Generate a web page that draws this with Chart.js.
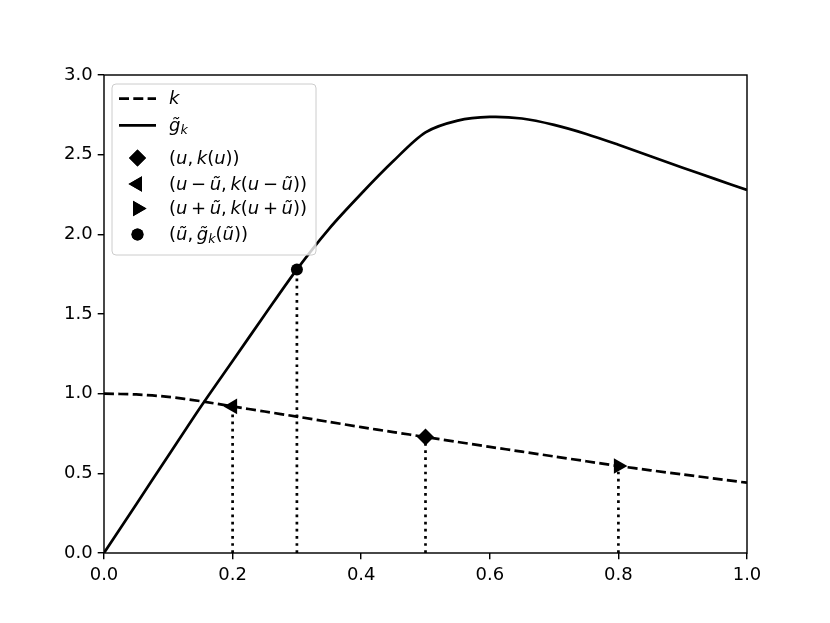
<!DOCTYPE html>
<html>
<head>
<meta charset="utf-8">
<script src="https://cdn.jsdelivr.net/npm/chart.js@4.4.0/dist/chart.umd.min.js"></script>
<style>
  html, body { margin: 0; padding: 0; background: #fff; }
  #wrap { width: 830px; height: 623px; }
</style>
</head>
<body>
<div id="wrap"><canvas id="c" width="830" height="623"></canvas></div>
<script>
/* ---------- data ---------- */
const uGrid = [0, 0.05, 0.1, 0.15, 0.2, 0.25, 0.3, 0.35, 0.4, 0.45, 0.5,
               0.55, 0.6, 0.65, 0.7, 0.75, 0.8, 0.85, 0.9, 0.95, 1.0];
const kVals = [1.0, 0.995, 0.98, 0.953, 0.92, 0.888, 0.856, 0.823, 0.79, 0.759, 0.728,
               0.697, 0.666, 0.636, 0.606, 0.576, 0.546, 0.519, 0.493, 0.467, 0.441];
const gVals = [0, 0.305, 0.61, 0.915, 1.205, 1.495, 1.78, 2.035, 2.255, 2.46, 2.64,
               2.714, 2.737, 2.727, 2.687, 2.63, 2.562, 2.49, 2.418, 2.348, 2.278];

const ptCenter = { x: 0.5, y: 0.728 };   // (u, k(u))
const ptMinus  = { x: 0.2, y: 0.92 };    // (u - ũ, k(u - ũ))
const ptPlus   = { x: 0.8, y: 0.546 };   // (u + ũ, k(u + ũ))
const ptTilde  = { x: 0.3, y: 1.78 };    // (ũ, g̃k(ũ))

const xTicks = [0, 0.2, 0.4, 0.6, 0.8, 1.0];
const yTicks = [0, 0.5, 1.0, 1.5, 2.0, 2.5, 3.0];

const TS = "\u2009";   // thin space
const legendLabels = [
  "k",
  "g\u0303_k",
  `(u,${TS}k(u))`,
  `(u${TS}\u2212${TS}u\u0303,${TS}k(u${TS}\u2212${TS}u\u0303))`,
  `(u${TS}+${TS}u\u0303,${TS}k(u${TS}+${TS}u\u0303))`,
  `(u\u0303,${TS}g\u0303_k(u\u0303))`
];

/* ---------- helpers ---------- */
const FONT = '"DejaVu Sans", sans-serif';
const LW   = 2.7;
const DASH = [10, 4.3];
const DOT  = [2.7, 4.45];

const toXY  = (xs, ys) => xs.map((x, i) => ({ x, y: ys[i] }));
const vline = p => [{ x: p.x, y: 0 }, { x: p.x, y: p.y }];

const marker = (p, style, r, rot) => ({
  data: [p], showLine: false, pointStyle: style, pointRadius: r,
  pointRotation: rot || 0, pointBackgroundColor: "#000", pointBorderColor: "#000",
  pointBorderWidth: 0, pointHoverRadius: r
});
const dotted = p => ({
  data: vline(p), showLine: true, borderColor: "#000", borderWidth: LW, borderDash: DOT,
  pointRadius: 0, fill: false
});

/* small math-text drawer: letters italic, "_" = subscript */
function drawMath (ctx, str, x, y, size) {
  let cx = x;
  for (let i = 0; i < str.length; i++) {
    let ch = str[i], sub = false;
    if (ch === "_") { sub = true; ch = str[++i]; }
    while (str[i + 1] === "\u0303") ch += str[++i];
    const ital = /[a-z]/i.test(ch[0]);
    const fs = sub ? size * 0.7 : size;
    ctx.font = `${ital ? "italic " : ""}${fs}px ${FONT}`;
    ctx.fillText(ch, cx, y + (sub ? size * 0.22 : 0));
    cx += ctx.measureText(ch).width;
  }
}

/* frame + legend drawn on top */
const framePlugin = {
  id: "frameLegend",
  afterDraw (chart) {
    const { ctx, chartArea: a } = chart;
    ctx.save();
    ctx.strokeStyle = "#000"; ctx.lineWidth = 1.44; ctx.setLineDash([]);
    ctx.strokeRect(a.left, a.top, a.right - a.left, a.bottom - a.top);

    // legend box
    const bx = 112, by = 84, bw = 204, bh = 171;
    ctx.beginPath();
    ctx.roundRect(bx, by, bw, bh, 4);
    ctx.fillStyle = "rgba(255,255,255,0.8)"; ctx.fill();
    ctx.strokeStyle = "#cccccc"; ctx.lineWidth = 1; ctx.stroke();

    const rows = [98.7, 125.3, 158, 184, 208.5, 234.5];
    const hx0 = 119, hx1 = 156, hc = (hx0 + hx1) / 2, tx = 169;
    ctx.fillStyle = "#000"; ctx.strokeStyle = "#000";

    // handles
    ctx.lineWidth = LW;
    ctx.setLineDash(DASH);
    ctx.beginPath(); ctx.moveTo(hx0, rows[0]); ctx.lineTo(hx1, rows[0]); ctx.stroke();
    ctx.setLineDash([]);
    ctx.beginPath(); ctx.moveTo(hx0, rows[1]); ctx.lineTo(hx1, rows[1]); ctx.stroke();
    const pts = chart.data.datasets;
    [[pts[0], rows[2]], [pts[1], rows[3]], [pts[2], rows[4]], [pts[3], rows[5]]]
      .forEach(([ds, y]) => {
        Chart.helpers.drawPoint(ctx, {
          pointStyle: ds.pointStyle, radius: ds.pointRadius,
          rotation: ds.pointRotation, borderWidth: 0
        }, hc, y);
        ctx.fill();
      });

    // texts
    ctx.textBaseline = "middle"; ctx.textAlign = "left";
    legendLabels.forEach((t, i) => drawMath(ctx, t, tx, rows[i] + 1, 18));
    ctx.restore();
  }
};

/* ---------- chart ---------- */
new Chart(document.getElementById("c"), {
  type: "scatter",
  data: {
    datasets: [
      marker(ptCenter, "rectRot", 8.5),
      marker(ptMinus,  "triangle", 9, -90),
      marker(ptPlus,   "triangle", 9, 90),
      marker(ptTilde,  "circle", 6),
      dotted(ptMinus), dotted(ptTilde), dotted(ptCenter), dotted(ptPlus),
      { data: toXY(uGrid, kVals), showLine: true, borderColor: "#000", borderWidth: LW,
        borderDash: DASH, pointRadius: 0, tension: 0.3 },
      { data: toXY(uGrid, gVals), showLine: true, borderColor: "#000", borderWidth: LW,
        pointRadius: 0, tension: 0.3 }
    ]
  },
  options: {
    responsive: false, animation: false,
    layout: { padding: { top: 75, right: 83, left: 0, bottom: 0 } },
    plugins: { legend: { display: false }, tooltip: { enabled: false } },
    scales: {
      x: {
        type: "linear", min: 0, max: 1,
        afterFit: s => { s.height = 70; },
        afterBuildTicks: s => { s.ticks = xTicks.map(v => ({ value: v })); },
        border: { display: false },
        grid: { drawOnChartArea: false, tickLength: 6.3, color: "#000", lineWidth: 1.44 },
        ticks: { color: "#000", padding: 5, font: { family: FONT, size: 18 },
                 maxRotation: 0, callback: v => v.toFixed(1) }
      },
      y: {
        type: "linear", min: 0, max: 3,
        afterFit: s => { s.width = 104; },
        afterBuildTicks: s => { s.ticks = yTicks.map(v => ({ value: v })); },
        border: { display: false },
        grid: { drawOnChartArea: false, tickLength: 6.3, color: "#000", lineWidth: 1.44 },
        ticks: { color: "#000", padding: 5, font: { family: FONT, size: 18 },
                 callback: v => v.toFixed(1) }
      }
    }
  },
  plugins: [framePlugin]
});
</script>
</body>
</html>
